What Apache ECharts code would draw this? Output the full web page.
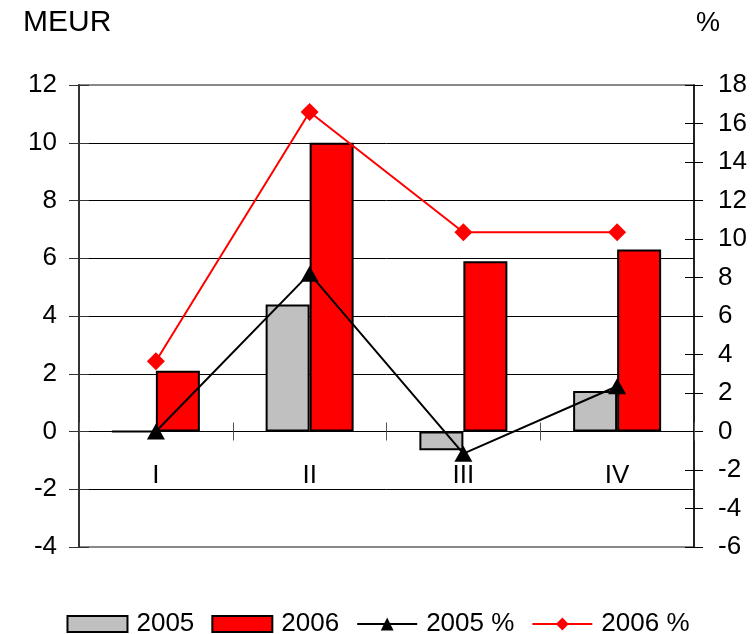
<!DOCTYPE html>
<html>
<head>
<meta charset="utf-8">
<script src="https://cdn.jsdelivr.net/npm/echarts@6/dist/echarts.min.js"></script>
<style>html,body{margin:0;padding:0;background:#fff;}#c{width:756px;height:634px;}</style>
</head>
<body>
<div id="c"></div>
<script>
const categories = ['I', 'II', 'III', 'IV'];
const meur2005 = [0, 4.4, -0.65, 1.4];
const meur2006 = [2.1, 10.0, 5.9, 6.3];
const pct2005 = [0, 8.2, -1.15, 2.35];
const pct2006 = [3.65, 16.6, 10.35, 10.35];
const seriesNames = ['2005', '2006', '2005 %', '2006 %'];

const FONT = '"Liberation Sans", Arial, sans-serif';
const chart = echarts.init(document.getElementById('c'), null, {renderer: 'canvas'});

const yLeftBase = {type: 'value', min: -4, max: 12, interval: 2, position: 'left'};
const yRightBase = {type: 'value', min: -6, max: 18, interval: 2, position: 'right'};

chart.setOption({
  animation: false,
  backgroundColor: '#fff',
  textStyle: {fontFamily: FONT},
  title: [
    {text: 'MEUR', left: 18, top: 3, textStyle: {fontFamily: FONT, fontSize: 30, fontWeight: 'normal', color: '#000'}},
    {text: '%', left: 691, top: 5, textStyle: {fontFamily: FONT, fontSize: 27, fontWeight: 'normal', color: '#000'}}
  ],
  grid: {left: 79, right: 62, top: 85, bottom: 87, show: true, borderColor: '#888', borderWidth: 2},
  legend: {
    top: 606, left: 'center', itemWidth: 60, itemHeight: 16, itemGap: 17,
    textStyle: {fontFamily: FONT, fontSize: 26, color: '#000', padding: [0, 0, 0, 4]},
    data: [
      {name: seriesNames[0], icon: 'rect'},
      {name: seriesNames[1], icon: 'rect'},
      {name: seriesNames[2]},
      {name: seriesNames[3]}
    ]
  },
  xAxis: [
    {
      type: 'category', data: categories, position: 'bottom',
      axisLine: {onZero: true, onZeroAxisIndex: 0, lineStyle: {color: '#000', width: 1}},
      axisTick: {show: true, length: 9, lineStyle: {color: '#555', width: 1}},
      axisLabel: {fontFamily: FONT, fontSize: 26, color: '#000', margin: -84},
      splitLine: {show: false}
    },
    {
      type: 'category', data: categories, position: 'bottom',
      axisLine: {show: false, onZero: true, onZeroAxisIndex: 0},
      axisTick: {show: true, inside: true, length: 9, lineStyle: {color: '#555', width: 1}},
      axisLabel: {show: false},
      splitLine: {show: false}
    }
  ],
  yAxis: [
    Object.assign({}, yLeftBase, {
      axisLine: {show: true, onZero: false, lineStyle: {color: '#333', width: 2}},
      axisTick: {show: true, length: 10, lineStyle: {color: '#333', width: 1}},
      axisLabel: {fontFamily: FONT, fontSize: 26, color: '#000', margin: 22},
      splitLine: {show: true, lineStyle: {color: ['#888', '#000', '#000', '#000', '#000', '#000', '#000', '#000', '#888'], width: 1}}
    }),
    Object.assign({}, yRightBase, {
      axisLine: {show: true, onZero: false, lineStyle: {color: '#000', width: 1.5}},
      axisTick: {show: true, length: 9, lineStyle: {color: '#000', width: 1}},
      axisLabel: {fontFamily: FONT, fontSize: 26, color: '#000', margin: 24},
      splitLine: {show: false}
    }),
    Object.assign({}, yLeftBase, {
      axisLine: {show: false, onZero: false},
      axisTick: {show: true, inside: true, length: 10, lineStyle: {color: '#333', width: 1}},
      axisLabel: {show: false},
      splitLine: {show: false}
    }),
    Object.assign({}, yRightBase, {
      axisLine: {show: false, onZero: false},
      axisTick: {show: true, inside: true, length: 9, lineStyle: {color: '#000', width: 1}},
      axisLabel: {show: false},
      splitLine: {show: false}
    })
  ],
  series: [
    {
      name: seriesNames[0], type: 'bar', data: meur2005, xAxisIndex: 0, yAxisIndex: 0,
      barWidth: 44, barGap: '0%',
      itemStyle: {color: '#C0C0C0', borderColor: '#000', borderWidth: 2}
    },
    {
      name: seriesNames[1], type: 'bar', data: meur2006, xAxisIndex: 0, yAxisIndex: 0,
      barWidth: 44, barGap: '0%',
      itemStyle: {color: '#FF0000', borderColor: '#000', borderWidth: 2}
    },
    {
      name: seriesNames[2], type: 'line', data: pct2005, xAxisIndex: 0, yAxisIndex: 1,
      symbol: 'triangle', symbolSize: [18, 16], showAllSymbol: true, z: 5,
      lineStyle: {color: '#000', width: 2},
      itemStyle: {color: '#000'}
    },
    {
      name: seriesNames[3], type: 'line', data: pct2006, xAxisIndex: 0, yAxisIndex: 1,
      symbol: 'diamond', symbolSize: [18, 18], showAllSymbol: true, z: 5,
      lineStyle: {color: '#FF0000', width: 2},
      itemStyle: {color: '#FF0000'}
    }
  ]
});
</script>
</body>
</html>
